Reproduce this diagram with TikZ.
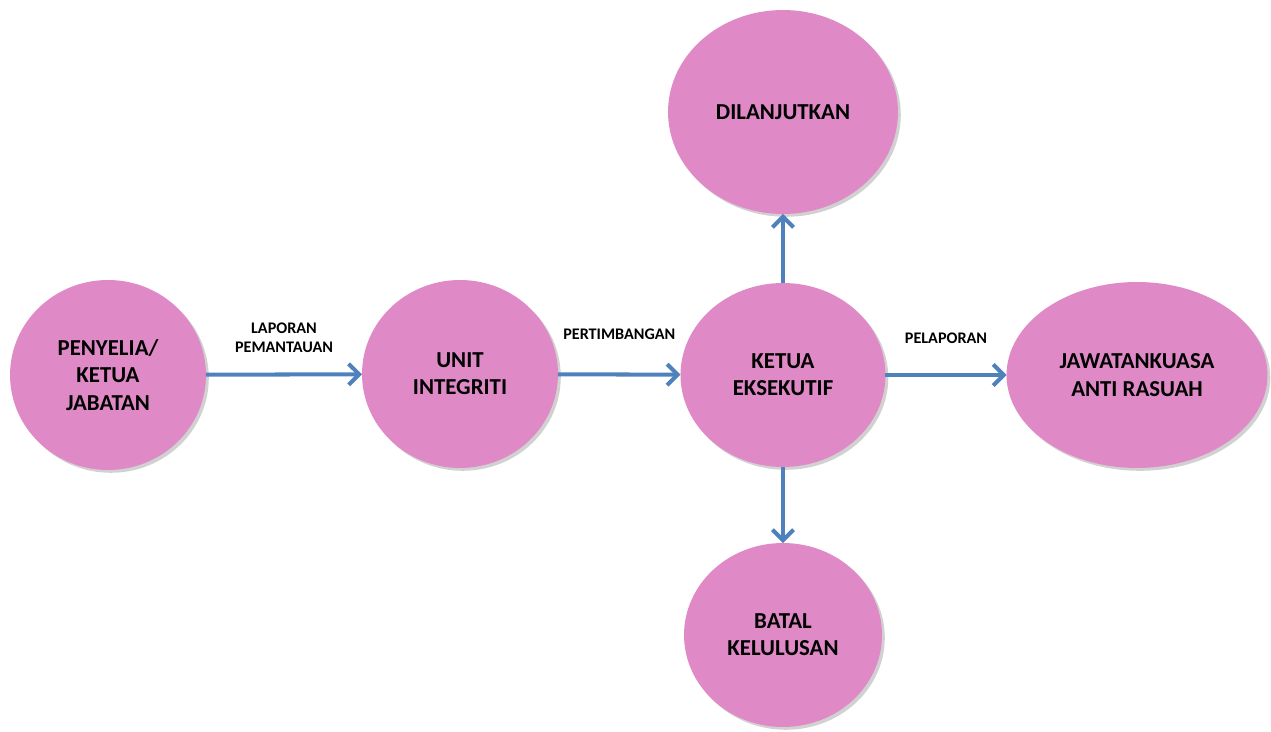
\documentclass[tikz,border=0pt]{standalone}
\usepackage{fontspec}
\setmainfont{Carlito}
\usetikzlibrary{shapes.geometric, arrows.meta, positioning, shadows}
\definecolor{cPink}{RGB}{223,138,199}
\definecolor{cArrow}{RGB}{79,129,189}
\tikzset{
	stage/.style={ellipse, fill=cPink, draw=none, align=center, inner sep=0pt, outer sep=0pt, font=\fontsize{13}{15.5}\selectfont\bfseries, drop shadow={shadow xshift=1.6pt, shadow yshift=-1.6pt, fill=black!40, opacity=0.45}},
	flow/.style={-{Straight Barb[length=6pt, width=12pt]}, line width=2.3pt, draw=cArrow},
	lbl/.style={font=\fontsize{9.2}{11}\selectfont\bfseries, align=center, yshift=0.74cm},
}
\begin{document}
\begin{tikzpicture}[x=0.02cm, y=-0.02cm]
	\useasboundingbox (0,0) rectangle (1271,732);
	% the six stages
	\node[stage, minimum width=3.92cm, minimum height=3.8cm] (penyelia) at (108,375) {PENYELIA/\\ KETUA\\ JABATAN};
	\node[stage, minimum width=3.92cm, minimum height=3.76cm] (unit) at (460,374) {UNIT\\ INTEGRITI};
	\node[stage, minimum width=4.1cm, minimum height=3.68cm] (ketua) at (783,375) {KETUA\\ EKSEKUTIF};
	\node[stage, minimum width=4.6cm, minimum height=4.08cm] (lanjut) at (783,112) {DILANJUTKAN};
	\node[stage, minimum width=3.96cm, minimum height=3.68cm] (batal) at (783,635) {BATAL\\ KELULUSAN};
	\node[stage, minimum width=5.22cm, minimum height=3.72cm] (jawatan) at (1137,375) {JAWATANKUASA\\ ANTI RASUAH};
	% connectors
	\draw[flow] (penyelia) -- node[lbl] {LAPORAN\\ PEMANTAUAN} (unit);
	\draw[flow] (unit) -- node[lbl, yshift=0.06cm] {PERTIMBANGAN} (ketua);
	\draw[flow] (ketua) -- node[lbl] {PELAPORAN} (jawatan);
	\draw[flow] (ketua) -- (lanjut);
	\draw[flow] (ketua) -- (batal);
\end{tikzpicture}
\end{document}
